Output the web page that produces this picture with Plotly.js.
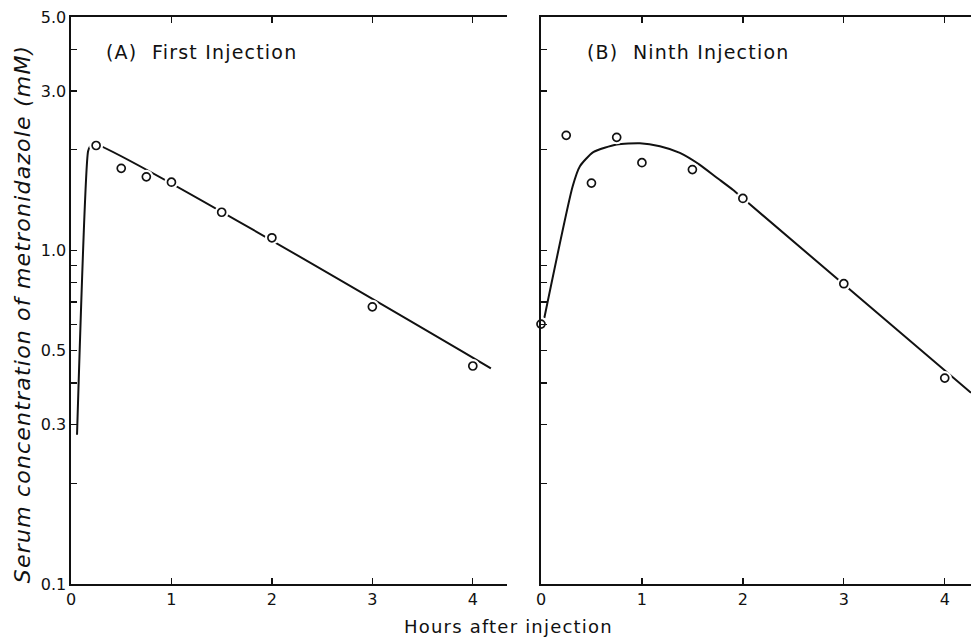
<!DOCTYPE html>
<html>
<head>
<meta charset="utf-8">
<script src="https://cdn.plot.ly/plotly-3.0.1.min.js"></script>
<style>
html,body{margin:0;padding:0;background:#fff;overflow:hidden}
.annotation-text{letter-spacing:1.2px}
</style>
</head>
<body>
<div id="chart" style="width:971px;height:637px"></div>
<script>
// Panel A: first injection (observed)
const hoursA = [0.25, 0.5, 0.75, 1.0, 1.5, 2.0, 3.0, 4.0];
const concA  = [2.06, 1.76, 1.66, 1.60, 1.30, 1.09, 0.677, 0.450];
// Panel A: fitted curve
const curveHoursA = [0.06, 0.17, 0.19, 0.22, 4.18];
const curveConcA  = [0.28, 1.98, 2.05, 2.09, 0.443];

// Panel B: ninth injection (observed)
const hoursB = [0, 0.25, 0.5, 0.75, 1.0, 1.5, 2.0, 3.0, 4.0];
const concB  = [0.601, 2.21, 1.59, 2.18, 1.83, 1.745, 1.43, 0.794, 0.414];
// Panel B: fitted curve
const curveHoursB = [0.033, 0.314, 0.386, 0.518, 0.75, 0.98, 1.178, 1.376, 1.574, 1.739, 1.904, 2.0, 4.26];
const curveConcB  = [0.627, 1.555, 1.786, 1.967, 2.074, 2.093, 2.05, 1.958, 1.803, 1.652, 1.515, 1.431, 0.374];

const yTickVals = [0.1,0.2,0.3,0.4,0.5,0.6,0.7,0.8,0.9,1,2,3,4,5];
const yTickText = ['0.1','','0.3','','0.5','','','','','1.0','','3.0','','5.0'];
const xTickVals = [0,1,2,3,4];
const xTickText = ['0','1','2','3','4'];

const FONT = 'DejaVu Sans, sans-serif';

function curve(x, y, xa, ya) {
  return {x, y, xaxis: xa, yaxis: ya, mode: 'lines', type: 'scatter',
    line: {color: '#111', width: 2, shape: 'spline', smoothing: 0.6}, hoverinfo: 'skip'};
}
function halo(x, y, xa, ya) {
  return {x, y, xaxis: xa, yaxis: ya, mode: 'markers', type: 'scatter',
    marker: {symbol: 'circle', size: 14, color: '#fff', line: {width: 0}}, hoverinfo: 'skip'};
}
function pts(x, y, xa, ya) {
  return {x, y, xaxis: xa, yaxis: ya, mode: 'markers', type: 'scatter', cliponaxis: false,
    marker: {symbol: 'circle', size: 8, color: '#fff', line: {color: '#111', width: 1.7}}};
}

const data = [
  curve(curveHoursA, curveConcA, 'x', 'y'),
  halo(hoursA, concA, 'x', 'y'),
  pts(hoursA, concA, 'x', 'y'),
  curve(curveHoursB, curveConcB, 'x2', 'y2'),
  halo(hoursB, concB, 'x2', 'y2'),
  pts(hoursB, concB, 'x2', 'y2')
];

const xBase = {
  tickmode: 'array', tickvals: xTickVals, ticktext: xTickText,
  ticks: 'inside', ticklen: 6, tickwidth: 1.3, tickcolor: '#111',
  showline: true, linecolor: '#111', linewidth: 1.6, mirror: 'ticks',
  showgrid: false, zeroline: false,
  tickfont: {family: FONT, size: 16, color: '#111'}
};
const yBase = {
  type: 'log', range: [-1, Math.log10(5)],
  tickmode: 'array', tickvals: yTickVals, ticktext: yTickText,
  ticks: 'inside', ticklen: 6, tickwidth: 1.3, tickcolor: '#111',
  showline: true, linecolor: '#111', linewidth: 1.6, mirror: false,
  showgrid: false, zeroline: false,
  tickfont: {family: FONT, size: 16, color: '#111'}
};

const layout = {
  width: 971, height: 637,
  margin: {l: 71, r: 0, t: 17, b: 53},
  paper_bgcolor: '#fff', plot_bgcolor: '#fff',
  showlegend: false,
  xaxis: Object.assign({}, xBase, {domain: [0, 0.4844], range: [0, 4.34], anchor: 'y'}),
  xaxis2: Object.assign({}, xBase, {domain: [0.5222, 1], range: [0, 4.26], anchor: 'y2'}),
  yaxis: Object.assign({}, yBase, {anchor: 'x'}),
  yaxis2: Object.assign({}, yBase, {anchor: 'x2', showticklabels: false}),
  annotations: [
    {text: '(A)  First Injection', xref: 'paper', yref: 'paper', x: 0.0367, y: 0.938,
     xanchor: 'left', yanchor: 'middle', showarrow: false,
     font: {family: FONT, size: 19, color: '#111'}},
    {text: '(B)  Ninth Injection', xref: 'paper', yref: 'paper', x: 0.571, y: 0.938,
     xanchor: 'left', yanchor: 'middle', showarrow: false,
     font: {family: FONT, size: 19, color: '#111'}},
    {text: 'Hours after injection', xref: 'paper', yref: 'paper', x: 0.486, y: -0.075,
     xanchor: 'center', yanchor: 'middle', showarrow: false,
     font: {family: FONT, size: 18, color: '#111'}},
    {text: '<i>Serum concentration of metronidazole (mM)</i>', xref: 'paper', yref: 'paper',
     x: -0.0544, y: 0.476, textangle: -90, xanchor: 'center', yanchor: 'middle', showarrow: false,
     font: {family: FONT, size: 22, color: '#111'}}
  ]
};

Plotly.newPlot('chart', data, layout, {displayModeBar: false, staticPlot: true});
</script>
</body>
</html>
